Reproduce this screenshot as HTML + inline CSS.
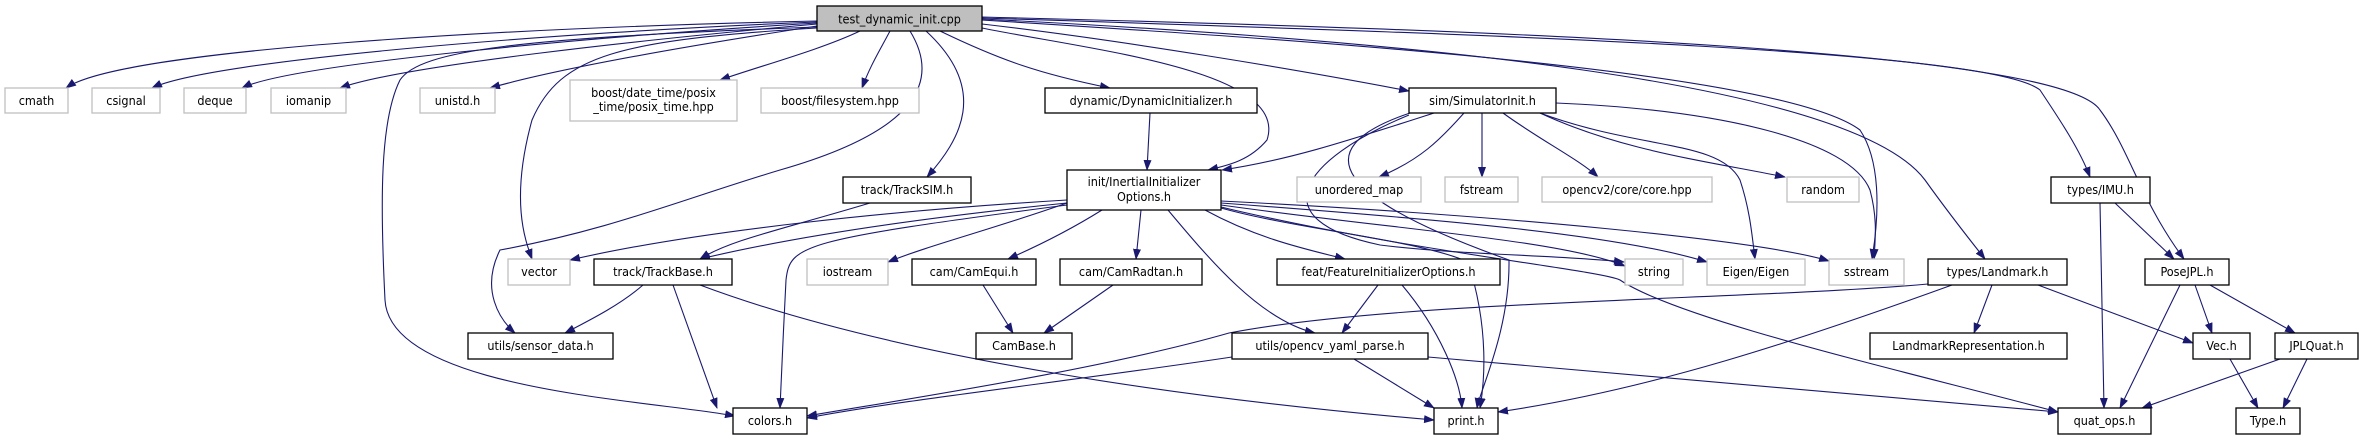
<!DOCTYPE html>
<html><head><meta charset="utf-8"><style>
html,body{margin:0;padding:0;background:#fff;}
svg{display:block}
text{font-family:"DejaVu Sans Condensed","Liberation Sans",sans-serif;font-size:12.5px;fill:#000}
.e{fill:none;stroke:#191970;stroke-width:1.1}
.n{fill:#fff;stroke:#000;stroke-width:1.3}
.g{fill:#fff;stroke:#bfbfbf;stroke-width:1.3}
</style></head><body>
<svg width="2364" height="440" viewBox="0 0 2364 440" xmlns="http://www.w3.org/2000/svg">
<defs><marker id="a" markerUnits="userSpaceOnUse" markerWidth="11" markerHeight="8" refX="10" refY="4" orient="auto"><path d="M0,0 L11,4 L0,8 z" fill="#191970"/></marker></defs>
<g class="e" marker-end="url(#a)">
<path d="M817,21 C500,28 120,50 66,88"/>
<path d="M817,22 C560,32 210,60 152,88"/>
<path d="M817,23 C600,36 290,64 242,88"/>
<path d="M817,24 C640,40 400,66 340,88"/>
<path d="M817,26 C700,44 560,68 490,88"/>
<path d="M860,31 C820,50 760,66 720,80"/>
<path d="M890,31 C880,50 870,66 862,88"/>
<path d="M817,28 C620,40 560,55 532,120 C510,200 525,240 532,259"/>
<path d="M817,27 C520,38 420,50 400,80 C380,120 380,200 385,300 C390,390 650,400 735,416"/>
<path d="M910,31 C940,80 920,130 780,170 C680,200 610,230 500,250 C480,290 500,320 515,333"/>
<path d="M926,31 C990,90 960,140 927,177"/>
<path d="M940,31 C1000,60 1040,74 1110,88"/>
<path d="M982,28 C1090,50 1290,70 1267,140 C1250,160 1230,165 1208,170"/>
<path d="M982,24 C1120,40 1300,70 1409,91"/>
<path d="M982,20 C1300,40 1780,70 1860,130 C1880,160 1880,210 1872,259"/>
<path d="M982,19 C1400,40 1850,80 1925,180 C1950,215 1970,240 1985,259"/>
<path d="M982,18 C1500,35 1990,50 2040,90 C2060,120 2080,150 2090,177"/>
<path d="M982,17 C1500,30 2060,50 2100,110 C2130,150 2140,200 2184,259"/>
<path d="M1150,113 L1147,170"/>
<path d="M1434,113 C1350,140 1290,160 1222,170"/>
<path d="M1464,113 C1440,140 1420,160 1379,177"/>
<path d="M1482,113 L1482,177"/>
<path d="M1503,113 C1540,140 1580,160 1598,177"/>
<path d="M1540,113 C1620,150 1700,160 1785,177"/>
<path d="M1540,113 C1640,150 1720,140 1740,180 C1750,210 1752,235 1755,259"/>
<path d="M1556,103 C1720,110 1850,140 1870,190 C1878,220 1875,240 1874,259"/>
<path d="M1409,115 C1300,160 1260,220 1380,245 C1460,255 1560,255 1624,262"/>
<path d="M1410,113 C1300,150 1340,200 1509,260 C1510,330 1480,390 1477,408"/>
<path d="M870,203 C780,230 730,240 700,259"/>
<path d="M1067,200 C900,210 700,230 570,260"/>
<path d="M1067,203 C900,220 780,240 700,259"/>
<path d="M1067,203 C990,230 930,245 888,262"/>
<path d="M1102,210 C1070,230 1040,245 1008,259"/>
<path d="M1141,210 L1136,259"/>
<path d="M1168,210 C1210,260 1260,320 1315,333"/>
<path d="M1205,210 C1260,240 1310,250 1345,259"/>
<path d="M1221,205 C1400,230 1560,240 1625,266"/>
<path d="M1221,203 C1450,220 1620,235 1707,262"/>
<path d="M1221,201 C1500,215 1760,240 1829,261"/>
<path d="M1221,207 C1400,250 1600,270 1620,280 C1680,320 1900,370 2058,412"/>
<path d="M1221,208 C1300,230 1420,240 1468,262 C1490,330 1484,385 1480,408"/>
<path d="M1067,205 C800,240 790,245 786,280 C784,320 781,380 780,408"/>
<path d="M643,285 C620,305 590,320 565,333"/>
<path d="M673,285 L717,408"/>
<path d="M700,285 C900,360 1200,400 1434,420"/>
<path d="M983,285 L1013,333"/>
<path d="M1113,285 L1044,333"/>
<path d="M1378,285 L1342,333"/>
<path d="M1402,285 C1440,330 1460,380 1462,408"/>
<path d="M1232,357 C1080,380 900,400 807,418"/>
<path d="M1354,359 L1434,408"/>
<path d="M1428,357 C1700,380 1900,400 2058,412"/>
<path d="M1928,284 C1750,300 1400,300 1229,333 C1100,370 900,400 807,416"/>
<path d="M1952,285 C1800,340 1650,390 1498,412"/>
<path d="M1992,285 L1974,333"/>
<path d="M2038,285 L2193,343"/>
<path d="M2100,203 L2104,408"/>
<path d="M2115,203 L2174,259"/>
<path d="M2180,285 L2120,408"/>
<path d="M2195,285 L2212,333"/>
<path d="M2210,285 L2295,333"/>
<path d="M2280,359 L2142,408"/>
<path d="M2307,359 L2283,408"/>
<path d="M2230,359 L2258,408"/>
</g>
<g>
<rect x="817" y="6" width="165" height="25" fill="#bfbfbf" stroke="#000" stroke-width="1.3"/>
<text x="899.5" y="23.5" text-anchor="middle">test_dynamic_init.cpp</text>
</g>
<g class="g">
<rect x="5" y="88" width="63" height="25"/><rect x="92" y="88" width="68" height="25"/><rect x="184" y="88" width="62" height="25"/><rect x="271" y="88" width="75" height="25"/><rect x="420" y="88" width="75" height="25"/><rect x="570" y="80" width="167" height="41"/><rect x="761" y="88" width="158" height="25"/>
<rect x="1297" y="177" width="124" height="25"/><rect x="1445" y="177" width="73" height="25"/><rect x="1542" y="177" width="170" height="25"/><rect x="1787" y="177" width="72" height="25"/>
<rect x="508" y="259" width="62" height="26"/><rect x="807" y="259" width="81" height="26"/><rect x="1625" y="259" width="58" height="26"/><rect x="1707" y="259" width="98" height="26"/><rect x="1829" y="259" width="75" height="26"/>
</g>
<g class="n">
<rect x="1045" y="88" width="212" height="25"/><rect x="1409" y="88" width="147" height="25"/>
<rect x="843" y="177" width="128" height="26"/><rect x="1067" y="170" width="154" height="40"/><rect x="2051" y="177" width="99" height="26"/>
<rect x="594" y="259" width="138" height="26"/><rect x="912" y="259" width="124" height="26"/><rect x="1060" y="259" width="142" height="26"/><rect x="1277" y="259" width="223" height="26"/><rect x="1928" y="259" width="139" height="26"/><rect x="2145" y="259" width="84" height="26"/>
<rect x="468" y="333" width="145" height="26"/><rect x="976" y="333" width="96" height="26"/><rect x="1232" y="333" width="196" height="26"/><rect x="1870" y="333" width="197" height="26"/><rect x="2193" y="333" width="57" height="26"/><rect x="2275" y="333" width="83" height="26"/>
<rect x="733" y="408" width="74" height="26"/><rect x="1434" y="408" width="64" height="26"/><rect x="2058" y="408" width="93" height="26"/><rect x="2236" y="408" width="64" height="26"/>
</g>
<g text-anchor="middle">
<text x="36.5" y="105">cmath</text><text x="126" y="105">csignal</text><text x="215" y="105">deque</text><text x="308.5" y="105">iomanip</text><text x="457.5" y="105">unistd.h</text>
<text x="653.5" y="97">boost/date_time/posix</text><text x="653.5" y="111">_time/posix_time.hpp</text>
<text x="840" y="105">boost/filesystem.hpp</text>
<text x="1151" y="105">dynamic/DynamicInitializer.h</text><text x="1482.5" y="105">sim/SimulatorInit.h</text>
<text x="907" y="194">track/TrackSIM.h</text>
<text x="1144" y="186">init/InertialInitializer</text><text x="1144" y="201">Options.h</text>
<text x="1359" y="194">unordered_map</text><text x="1481.5" y="194">fstream</text><text x="1627" y="194">opencv2/core/core.hpp</text><text x="1823" y="194">random</text><text x="2100.5" y="194">types/IMU.h</text>
<text x="539" y="276">vector</text><text x="663" y="276">track/TrackBase.h</text><text x="847.5" y="276">iostream</text><text x="974" y="276">cam/CamEqui.h</text><text x="1131" y="276">cam/CamRadtan.h</text><text x="1388.5" y="276">feat/FeatureInitializerOptions.h</text>
<text x="1654" y="276">string</text><text x="1756" y="276">Eigen/Eigen</text><text x="1866.5" y="276">sstream</text><text x="1997.5" y="276">types/Landmark.h</text><text x="2187" y="276">PoseJPL.h</text>
<text x="540.5" y="350">utils/sensor_data.h</text><text x="1024" y="350">CamBase.h</text><text x="1330" y="350">utils/opencv_yaml_parse.h</text><text x="1968.5" y="350">LandmarkRepresentation.h</text><text x="2221.5" y="350">Vec.h</text><text x="2316.5" y="350">JPLQuat.h</text>
<text x="770" y="425">colors.h</text><text x="1466" y="425">print.h</text><text x="2104.5" y="425">quat_ops.h</text><text x="2268" y="425">Type.h</text>
</g>
</svg>
</body></html>
